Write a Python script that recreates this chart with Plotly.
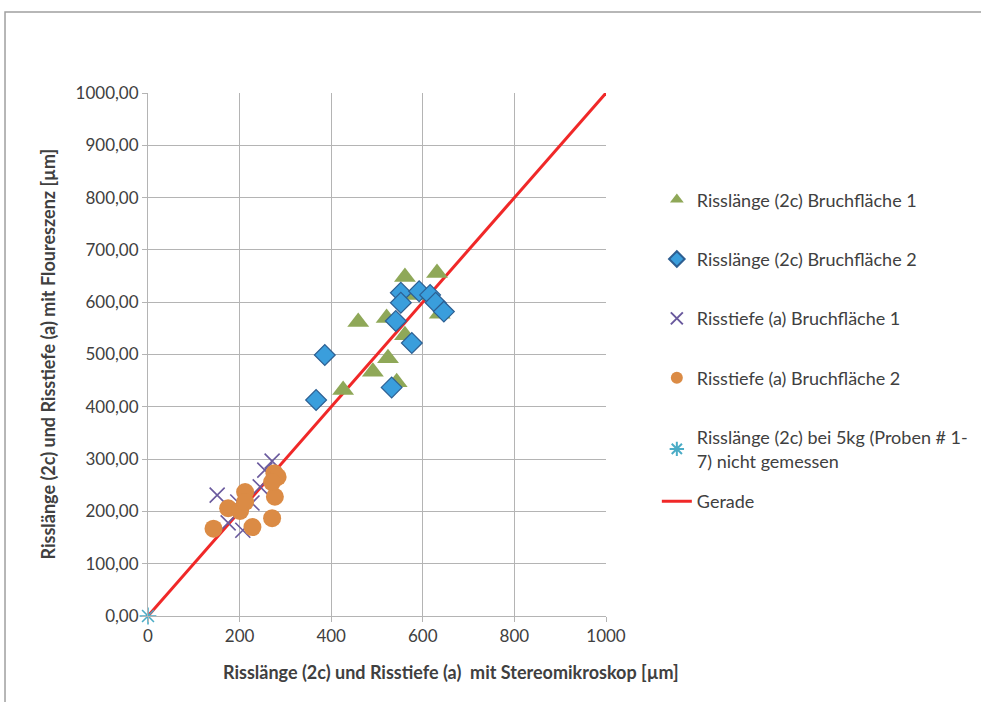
import plotly.graph_objects as go

# Measured crack sizes: stereo microscope (x) vs. fluorescence (y), in µm
tri_x = [426, 491, 524, 543, 459, 521, 561, 561, 583, 631, 637]
tri_y = [432, 467, 493, 447, 562, 570, 648, 537, 614, 656, 578]

dia_x = [367, 386, 532, 541, 552, 552, 576, 592, 616, 628, 646]
dia_y = [413, 499, 437, 564, 618, 599, 522, 621, 614, 599, 582]

cross_x = [151, 175, 207, 196, 227, 245, 255, 271]
cross_y = [231, 178, 164, 218, 216, 247, 279, 296]

circ_x = [143, 175, 201, 212, 212, 228, 271, 277, 276, 283, 271]
circ_y = [167, 206, 201, 237, 218, 170, 187, 228, 273, 266, 256]

star_x = [0]
star_y = [0]

line_x = [0, 1000]
line_y = [0, 1000]

x_ticks = [0, 200, 400, 600, 800, 1000]
y_ticks = [0, 100, 200, 300, 400, 500, 600, 700, 800, 900, 1000]

FONT = "Lato, Carlito, Calibri, sans-serif"
TXT = "#404040"
GRID = "#b4b4b4"

fig = go.Figure()

fig.add_trace(go.Scatter(
    x=line_x, y=line_y, mode="lines", name="Gerade",
    line=dict(color="#f02828", width=3), legend="legend2",
))
fig.add_trace(go.Scatter(
    x=tri_x, y=tri_y, mode="markers", name="Risslänge (2c) Bruchfläche 1",
    marker=dict(symbol="triangle-up", size=19, color="#8fa858"),
    legendgroup="g1", cliponaxis=False,
))
fig.add_trace(go.Scatter(
    x=dia_x, y=dia_y, mode="markers", name="Risslänge (2c) Bruchfläche 2",
    marker=dict(symbol="diamond", size=16, color="#3a9edc",
                line=dict(color="#2d5f92", width=1.2)),
    legendgroup="g2", cliponaxis=False,
))
fig.add_trace(go.Scatter(
    x=cross_x, y=cross_y, mode="markers", name="Risstiefe (a) Bruchfläche 1",
    marker=dict(symbol="x-thin-open", size=15, color="#6a5a9e",
                line=dict(color="#6a5a9e", width=1.6)),
    legendgroup="g3", cliponaxis=False,
))
fig.add_trace(go.Scatter(
    x=circ_x, y=circ_y, mode="markers", name="Risstiefe (a) Bruchfläche 2",
    marker=dict(symbol="circle", size=18, color="#db8b45"),
    legendgroup="g4", cliponaxis=False,
))
fig.add_trace(go.Scatter(
    x=star_x, y=star_y, mode="markers",
    name="Risslänge (2c) bei 5kg (Proben # 1-<br>7) nicht gemessen",
    marker=dict(symbol="asterisk-open", size=14, color="#4bacc6",
                line=dict(color="#4bacc6", width=1.6)),
    legendgroup="g5", cliponaxis=False,
))

fig.update_layout(
    width=981, height=702, autosize=False,
    margin=dict(l=148, r=375, t=93, b=86, autoexpand=False),
    paper_bgcolor="white", plot_bgcolor="white",
    separators=",.",
    font=dict(family=FONT, size=17, color=TXT),
    showlegend=True,
    legend=dict(
        x=1.111, xanchor="left", y=0.831, yanchor="top",
        font=dict(family=FONT, size=18, color=TXT),
        traceorder="grouped", tracegroupgap=33, itemsizing="constant",
        bgcolor="rgba(0,0,0,0)",
    ),
    legend2=dict(
        x=1.111, xanchor="left", y=0.254, yanchor="top",
        font=dict(family=FONT, size=18, color=TXT),
        bgcolor="rgba(0,0,0,0)",
    ),
    xaxis=dict(
        range=[0, 1000], tickvals=x_ticks, showgrid=True, gridcolor=GRID,
        gridwidth=1, zeroline=False, showline=True, linecolor=GRID,
        ticks="outside", ticklen=5, tickcolor=GRID,
        tickfont=dict(family=FONT, size=17, color=TXT),
    ),
    yaxis=dict(
        range=[0, 1000], tickvals=y_ticks, tickformat=".2f", showgrid=True,
        gridcolor=GRID, gridwidth=1, zeroline=False, showline=True,
        linecolor=GRID, ticks="outside", ticklen=5, tickcolor=GRID,
        tickfont=dict(family=FONT, size=17, color=TXT),
    ),
    shapes=[dict(
        type="rect", xref="paper", yref="paper",
        x0=-0.3122, x1=2.0, y0=-1.0, y1=1.1549,
        line=dict(color="#a0a0a0", width=1.5), layer="below",
    )],
    annotations=[
        dict(text="<b>Risslänge (2c) und Risstiefe (a)  mit Stereomikroskop [µm]</b>",
             xref="paper", yref="paper", x=0.662, y=-0.107,
             xanchor="center", yanchor="middle", showarrow=False,
             font=dict(family=FONT, size=18, color=TXT)),
        dict(text="<b>Risslänge (2c) und Risstiefe (a) mit Floureszenz [µm]</b>",
             xref="paper", yref="paper", x=-0.2205, y=0.5, textangle=-90,
             xanchor="center", yanchor="middle", showarrow=False,
             font=dict(family=FONT, size=18, color=TXT)),
    ],
)

fig.write_html("out.html")
